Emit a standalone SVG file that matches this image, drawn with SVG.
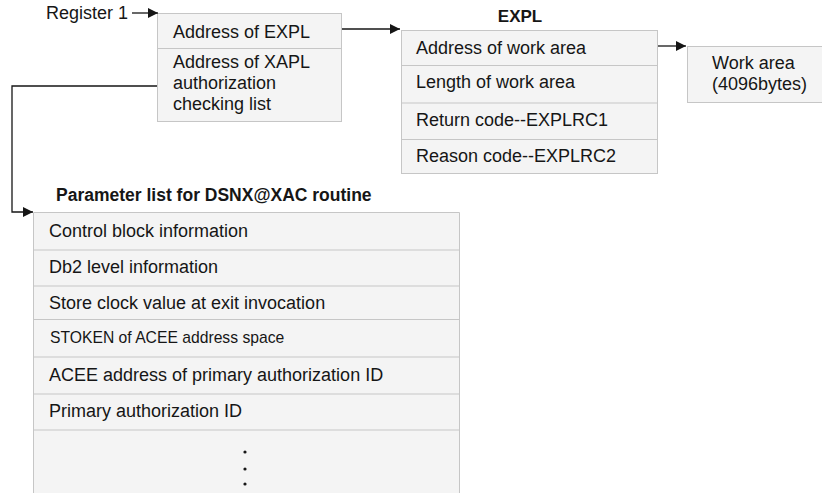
<svg xmlns="http://www.w3.org/2000/svg" width="822" height="493" viewBox="0 0 822 493">
<defs>
<style>
text{font-family:"Liberation Sans",Arial,sans-serif;font-size:18px;fill:#161616}
.b{font-weight:bold;font-size:17px}
.box{fill:#f4f4f4;stroke:#c6c6c6;stroke-width:1}
.sep{stroke:#c6c6c6;stroke-width:1.2}
.con{fill:none;stroke:#161616;stroke-width:1.3}
</style>
<marker id="ah" viewBox="0 0 10 10" refX="10" refY="5" markerWidth="10" markerHeight="10" markerUnits="userSpaceOnUse" orient="auto">
<path d="M0,0 L10,5 L0,10 z" fill="#161616"/>
</marker>
</defs>
<rect width="822" height="493" fill="#ffffff"/>
<g id="register1"><text x="46" y="19">Register 1</text></g>
<g id="box1">
<rect class="box" x="157.5" y="13.5" width="184" height="108"/>
<line class="sep" x1="157.5" y1="48.5" x2="341.5" y2="48.5"/>
<text x="173" y="38">Address of EXPL</text>
<text x="173" y="68">Address of XAPL</text>
<text x="173" y="89">authorization</text>
<text x="173" y="110">checking list</text>
</g>
<g id="expl">
<text class="b" x="520" y="22" text-anchor="middle">EXPL</text>
<rect class="box" x="401.5" y="30.5" width="256" height="143"/>
<line class="sep" x1="401.5" y1="65.5" x2="657.5" y2="65.5"/>
<line class="sep" x1="401.5" y1="103" x2="657.5" y2="103"/>
<line class="sep" x1="401.5" y1="139.5" x2="657.5" y2="139.5"/>
<text x="416" y="54">Address of work area</text>
<text x="416" y="88">Length of work area</text>
<text x="416" y="126">Return code--EXPLRC1</text>
<text x="416" y="162">Reason code--EXPLRC2</text>
</g>
<g id="workarea">
<rect class="box" x="687.5" y="46.5" width="140" height="56"/>
<text x="712" y="69">Work area</text>
<text x="712" y="89.5">(4096bytes)</text>
</g>
<g id="paramlist">
<text class="b" x="56" y="201" style="font-size:17.5px">Parameter list for DSNX@XAC routine</text>
<path class="box" d="M33.5,500 V212.5 H459.5 V500"/>
<line class="sep" x1="33.5" y1="250" x2="460" y2="250"/>
<line class="sep" x1="33.5" y1="286" x2="460" y2="286"/>
<line class="sep" x1="33.5" y1="319.5" x2="460" y2="319.5"/>
<line class="sep" x1="33.5" y1="357" x2="460" y2="357"/>
<line class="sep" x1="33.5" y1="394" x2="460" y2="394"/>
<line class="sep" x1="33.5" y1="430" x2="460" y2="430"/>
<text x="49" y="237">Control block information</text>
<text x="49" y="273">Db2 level information</text>
<text x="49" y="309">Store clock value at exit invocation</text>
<text x="50" y="343" style="font-size:15.7px">STOKEN of ACEE address space</text>
<text x="49" y="381">ACEE address of primary authorization ID</text>
<text x="49" y="417">Primary authorization ID</text>
<circle cx="245" cy="452" r="1.6" fill="#161616"/>
<circle cx="245" cy="469" r="1.6" fill="#161616"/>
<circle cx="245" cy="484" r="1.6" fill="#161616"/>
</g>
<g id="connectors">
<line class="con" x1="132" y1="13" x2="158" y2="13" marker-end="url(#ah)"/>
<line class="con" x1="342" y1="29" x2="400" y2="29" marker-end="url(#ah)"/>
<line class="con" x1="658" y1="46" x2="686" y2="46" marker-end="url(#ah)"/>
<path class="con" d="M157,86 H12 V212 H33" marker-end="url(#ah)"/>
</g>
</svg>
